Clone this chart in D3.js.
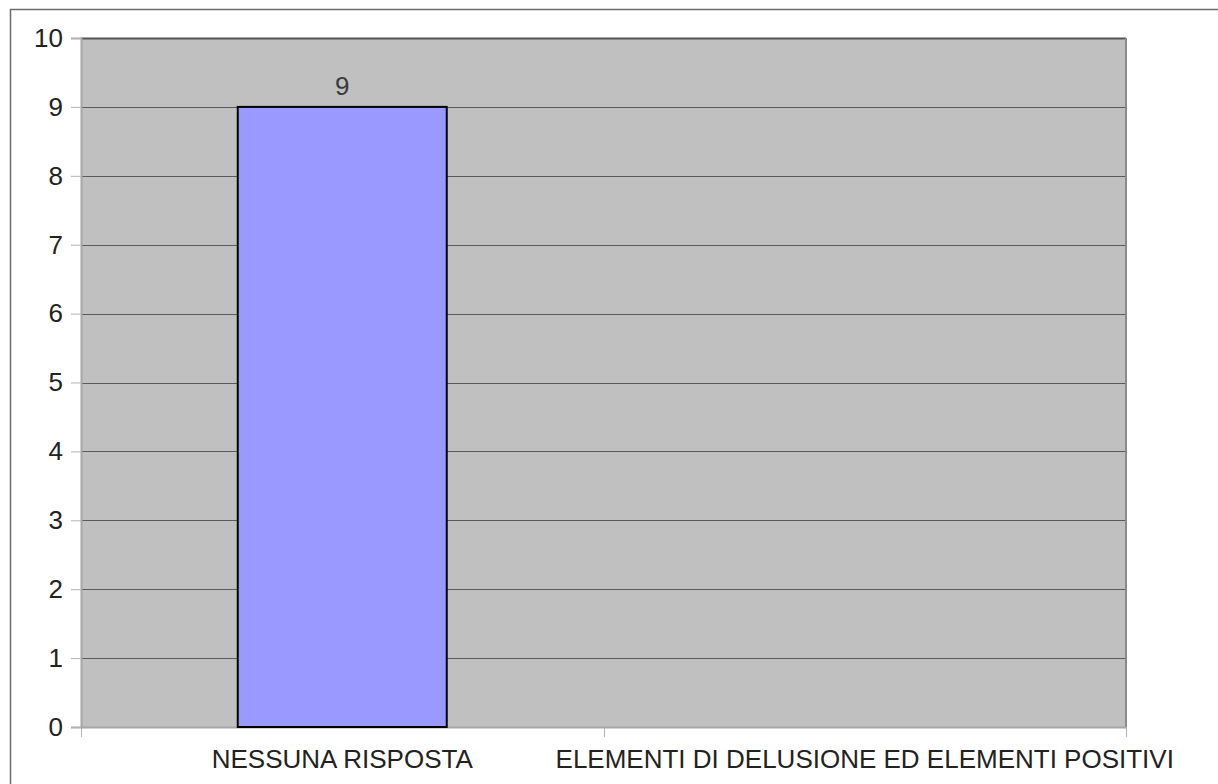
<!DOCTYPE html>
<html>
<head>
<meta charset="utf-8">
<script src="https://cdn.jsdelivr.net/npm/d3@7"></script>
<style>
  body { margin: 0; background: #fff; }
  svg { display: block; font-family: "Liberation Sans", Arial, sans-serif; }
</style>
</head>
<body>
<script>
// data
const categories = ["NESSUNA RISPOSTA", "ELEMENTI DI DELUSIONE ED ELEMENTI POSITIVI"];
const values = [9, null];
const yTicks = [0, 1, 2, 3, 4, 5, 6, 7, 8, 9, 10];

const width = 1218, height = 784;
const margin = {top: 38, right: 92, bottom: 57, left: 81};

const svg = d3.select("body").append("svg")
  .attr("width", width)
  .attr("height", height);

// outer frame, runs off the right and bottom edges
svg.append("rect")
  .attr("x", 10.5).attr("y", 9.5)
  .attr("width", 1230).attr("height", 800)
  .attr("fill", "none")
  .attr("stroke", "#6b6b6b")
  .attr("stroke-width", 1.5);

const x = d3.scaleBand()
  .domain(categories)
  .range([margin.left, width - margin.right])
  .padding(0);

const y = d3.scaleLinear()
  .domain([0, 10])
  .range([height - margin.bottom, margin.top]);

const g = svg.append("g");

// plot background
g.append("rect")
  .attr("x", margin.left)
  .attr("y", margin.top)
  .attr("width", width - margin.left - margin.right)
  .attr("height", height - margin.top - margin.bottom)
  .attr("fill", "#c0c0c0");

// gridlines
g.selectAll(".grid")
  .data(yTicks.filter(d => d > 0))
  .enter().append("line")
  .attr("class", "grid")
  .attr("x1", margin.left).attr("x2", width - margin.right)
  .attr("y1", d => Math.round(y(d)) + 0.5)
  .attr("y2", d => Math.round(y(d)) + 0.5)
  .attr("stroke", d => d === 10 ? "#555" : "#5a5a5a")
  .attr("stroke-width", d => d === 10 ? 2 : 1);

// right edge of plot
g.append("line")
  .attr("x1", width - margin.right).attr("x2", width - margin.right)
  .attr("y1", margin.top).attr("y2", height - margin.bottom)
  .attr("stroke", "#8a8a8a")
  .attr("stroke-width", 2);

// y axis
const yAxis = d3.axisLeft(y)
  .tickValues(yTicks)
  .tickSize(10)
  .tickPadding(8)
  .tickFormat(d3.format("d"));

const ya = svg.append("g")
  .attr("transform", "translate(" + margin.left + ",0)")
  .call(yAxis);
ya.select(".domain")
  .attr("stroke", "#a6a6a6")
  .attr("stroke-width", 2);
ya.selectAll(".tick line").attr("stroke", "#b3b3b3");
ya.selectAll(".tick text")
  .attr("font-size", 26)
  .attr("fill", "#222");

// x axis: ticks at category boundaries
const bounds = [margin.left].concat(categories.map(c => x(c) + x.bandwidth()));
svg.selectAll(".xtick")
  .data(bounds)
  .enter().append("line")
  .attr("class", "xtick")
  .attr("x1", d => Math.round(d) + 0.5).attr("x2", d => Math.round(d) + 0.5)
  .attr("y1", height - margin.bottom).attr("y2", height - margin.bottom + 10)
  .attr("stroke", "#b3b3b3");

svg.append("line")
  .attr("x1", margin.left).attr("x2", width - margin.right)
  .attr("y1", height - margin.bottom + 0.5).attr("y2", height - margin.bottom + 0.5)
  .attr("stroke", "#a6a6a6")
  .attr("stroke-width", 2);

svg.selectAll(".xlabel")
  .data(categories)
  .enter().append("text")
  .attr("class", "xlabel")
  .attr("x", d => x(d) + x.bandwidth() / 2)
  .attr("y", 768)
  .attr("text-anchor", "middle")
  .attr("font-size", 26)
  .attr("fill", "#222")
  .text(d => d);

// bars
const barW = x.bandwidth() * 0.4;
const barData = categories.map((c, i) => ({cat: c, value: values[i]})).filter(d => d.value != null);

svg.selectAll(".bar")
  .data(barData)
  .enter().append("rect")
  .attr("class", "bar")
  .attr("x", d => x(d.cat) + (x.bandwidth() - barW) / 2)
  .attr("y", d => y(d.value))
  .attr("width", barW)
  .attr("height", d => y(0) - y(d.value))
  .attr("fill", "#9999ff")
  .attr("stroke", "#000")
  .attr("stroke-width", 2);

svg.selectAll(".val")
  .data(barData)
  .enter().append("text")
  .attr("class", "val")
  .attr("x", d => x(d.cat) + x.bandwidth() / 2)
  .attr("y", d => y(d.value) - 12)
  .attr("text-anchor", "middle")
  .attr("font-size", 26)
  .attr("fill", "#3a3a3a")
  .text(d => d.value);
</script>
</body>
</html>
